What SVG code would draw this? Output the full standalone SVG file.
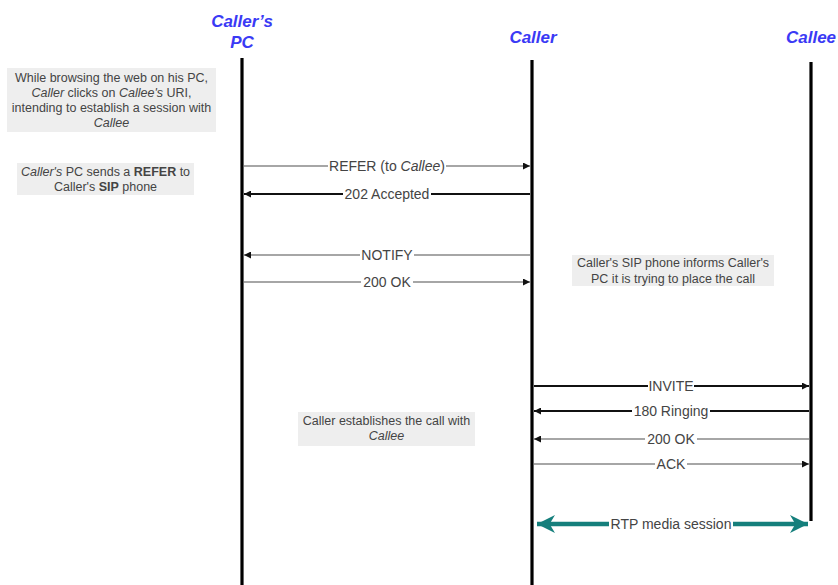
<svg xmlns="http://www.w3.org/2000/svg" width="838" height="585" viewBox="0 0 838 585">
<defs>
<style>
.hdr{font-family:"Liberation Sans",Arial,sans-serif;font-size:17px;font-weight:bold;font-style:italic;fill:#3a3af5;text-anchor:middle}
.life{stroke:#000;stroke-width:3.2}
.note rect{fill:#eeeeee}
.note text{font-family:"Liberation Sans",Arial,sans-serif;font-size:12.5px;fill:#444;text-anchor:middle}
.lbl{font-family:"Liberation Sans",Arial,sans-serif;font-size:14px;fill:#444;text-anchor:middle}
.bg{fill:#fff}
.thin{stroke:#888;stroke-width:1.4;fill:none}
.thick{stroke:#111;stroke-width:2;fill:none}
.rtp{stroke:#157f7c;stroke-width:4.5;fill:none}
</style>
<marker id="ah" viewBox="0 0 10 10" refX="10" refY="5" markerWidth="8" markerHeight="7" markerUnits="userSpaceOnUse" orient="auto">
<path d="M0,0 L10,5 L0,10 z" fill="#111"/>
</marker>
<marker id="rh" viewBox="0 0 10 10" refX="10" refY="5" markerWidth="18" markerHeight="20" markerUnits="userSpaceOnUse" orient="auto-start-reverse">
<path d="M0,0 L10,5 L0,10 L3,5 z" fill="#157f7c"/>
</marker>
</defs>

<g id="caller-pc">
<text class="hdr" x="242" y="27">Caller’s</text>
<text class="hdr" x="242" y="48">PC</text>
<line class="life" x1="242" y1="58" x2="242" y2="585"/>
</g>
<g id="caller">
<text class="hdr" x="533" y="43">Caller</text>
<line class="life" x1="532" y1="60" x2="532" y2="585"/>
</g>
<g id="callee">
<text class="hdr" x="811" y="43">Callee</text>
<line class="life" x1="811" y1="62" x2="811" y2="521"/>
</g>

<g id="note1" class="note">
<rect x="7" y="68" width="209" height="64"/>
<text x="111.5" y="82">While browsing the web on his PC,</text>
<text x="111.5" y="97"><tspan font-style="italic">Caller</tspan> clicks on <tspan font-style="italic">Callee's</tspan> URI,</text>
<text x="111.5" y="112">intending to establish a session with</text>
<text x="111.5" y="127" font-style="italic">Callee</text>
</g>
<g id="note2" class="note">
<rect x="17" y="163" width="177" height="32"/>
<text x="105.5" y="176"><tspan font-style="italic">Caller's</tspan> PC sends a <tspan font-weight="bold">REFER</tspan> to</text>
<text x="105.5" y="191">Caller's <tspan font-weight="bold">SIP</tspan> phone</text>
</g>
<g id="note3" class="note">
<rect x="572" y="255" width="202" height="31"/>
<text x="673" y="267">Caller's SIP phone informs Caller's</text>
<text x="673" y="283">PC it is trying to place the call</text>
</g>
<g id="note4" class="note">
<rect x="298" y="412" width="177" height="34"/>
<text x="386.5" y="425">Caller establishes the call with</text>
<text x="386.5" y="440" font-style="italic">Callee</text>
</g>

<g id="connectors">
<line class="thin" x1="244" y1="166" x2="530" y2="166" marker-end="url(#ah)"/>
<rect class="bg" x="328" y="158" width="118" height="16"/>
<text class="lbl" x="387" y="171">REFER (to <tspan font-style="italic">Callee</tspan>)</text>

<line class="thick" x1="530" y1="194" x2="244" y2="194" marker-end="url(#ah)"/>
<rect class="bg" x="343" y="186" width="88" height="16"/>
<text class="lbl" x="387" y="199">202 Accepted</text>

<line class="thin" x1="530" y1="255" x2="244" y2="255" marker-end="url(#ah)"/>
<rect class="bg" x="360" y="247" width="54" height="16"/>
<text class="lbl" x="387" y="260">NOTIFY</text>

<line class="thin" x1="244" y1="282" x2="530" y2="282" marker-end="url(#ah)"/>
<rect class="bg" x="361" y="274" width="52" height="16"/>
<text class="lbl" x="387" y="287">200 OK</text>

<line class="thick" x1="534" y1="386" x2="809" y2="386" marker-end="url(#ah)"/>
<rect class="bg" x="648" y="378" width="46" height="16"/>
<text class="lbl" x="671" y="391">INVITE</text>

<line class="thick" x1="809" y1="411" x2="534" y2="411" marker-end="url(#ah)"/>
<rect class="bg" x="632" y="403" width="78" height="16"/>
<text class="lbl" x="671" y="416">180 Ringing</text>

<line class="thin" x1="809" y1="439" x2="534" y2="439" marker-end="url(#ah)"/>
<rect class="bg" x="645" y="431" width="52" height="16"/>
<text class="lbl" x="671" y="444">200 OK</text>

<line class="thin" x1="534" y1="464" x2="809" y2="464" marker-end="url(#ah)"/>
<rect class="bg" x="655" y="456" width="32" height="16"/>
<text class="lbl" x="671" y="469">ACK</text>

<line class="rtp" x1="537" y1="524" x2="808" y2="524" marker-start="url(#rh)" marker-end="url(#rh)"/>
<rect class="bg" x="609" y="516" width="124" height="16"/>
<text class="lbl" x="671" y="529">RTP media session</text>
</g>
</svg>
